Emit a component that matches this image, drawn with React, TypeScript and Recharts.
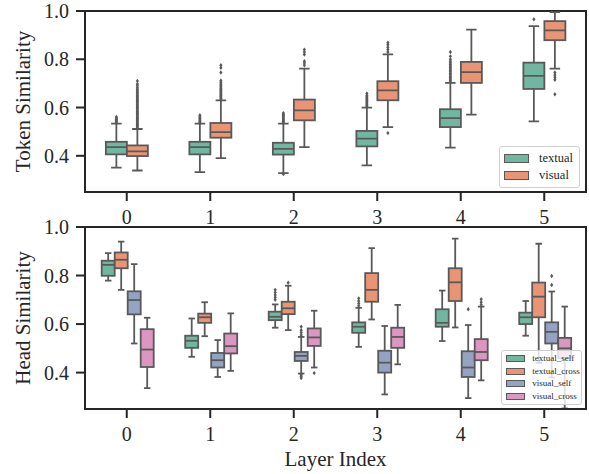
import React from 'react';
import { ComposedChart, Bar, XAxis, YAxis, Legend, ReferenceArea } from 'recharts';

// ---------- data ----------
const LAYERS = ['0', '1', '2', '3', '4', '5'];
const Y_TICKS = [0.4, 0.6, 0.8, 1.0];

// box stats: [lower whisker, q1, median, q3, upper whisker]
const TOKEN_TEXTUAL = [
  [0.351, 0.406, 0.436, 0.458, 0.533],
  [0.332, 0.406, 0.436, 0.458, 0.533],
  [0.328, 0.405, 0.429, 0.454, 0.533],
  [0.360, 0.439, 0.471, 0.503, 0.600],
  [0.434, 0.519, 0.556, 0.593, 0.702],
  [0.543, 0.677, 0.731, 0.786, 0.937],
];
const TOKEN_VISUAL = [
  [0.339, 0.399, 0.418, 0.443, 0.511],
  [0.390, 0.475, 0.498, 0.536, 0.630],
  [0.436, 0.547, 0.588, 0.633, 0.761],
  [0.519, 0.630, 0.671, 0.709, 0.820],
  [0.571, 0.702, 0.747, 0.789, 0.923],
  [0.761, 0.879, 0.920, 0.958, 0.995],
];
const TOKEN_TEXTUAL_OUT = [
  [0.537, 0.541, 0.545, 0.549, 0.553, 0.557, 0.561],
  [0.537, 0.542, 0.547, 0.552, 0.557, 0.562, 0.568],
  [0.537, 0.542, 0.547, 0.552, 0.557, 0.562, 0.567, 0.572, 0.577, 0.324],
  [0.605, 0.610, 0.615, 0.620, 0.625, 0.630, 0.635, 0.640, 0.645, 0.650, 0.658],
  [0.706, 0.712, 0.718, 0.724, 0.730, 0.736, 0.742, 0.748, 0.754, 0.760, 0.766, 0.772, 0.778, 0.785, 0.792, 0.800, 0.812, 0.830],
  [0.966],
];
const TOKEN_VISUAL_OUT = [
  [0.515, 0.520, 0.525, 0.530, 0.535, 0.540, 0.545, 0.550, 0.555, 0.560, 0.565, 0.570, 0.575, 0.580, 0.585, 0.590, 0.595, 0.600, 0.605, 0.610, 0.615, 0.620, 0.625, 0.630, 0.635, 0.640, 0.645, 0.650, 0.656, 0.662, 0.668, 0.675, 0.682, 0.690, 0.698, 0.710],
  [0.635, 0.640, 0.645, 0.650, 0.655, 0.660, 0.665, 0.670, 0.675, 0.680, 0.686, 0.692, 0.698, 0.705, 0.712, 0.745, 0.765, 0.775],
  [0.775, 0.785, 0.792, 0.820, 0.830, 0.840],
  [0.830, 0.840, 0.850, 0.860, 0.869, 0.494],
  [],
  [0.745, 0.735, 0.725, 0.715, 0.655],
];

const HEAD_TEXTUAL_SELF = [
  [0.779, 0.799, 0.844, 0.861, 0.892],
  [0.465, 0.502, 0.531, 0.552, 0.623],
  [0.585, 0.616, 0.630, 0.651, 0.681],
  [0.506, 0.564, 0.589, 0.607, 0.667],
  [0.530, 0.589, 0.605, 0.661, 0.738],
  [0.552, 0.600, 0.628, 0.647, 0.695],
];
const HEAD_TEXTUAL_CROSS = [
  [0.741, 0.830, 0.865, 0.895, 0.940],
  [0.550, 0.605, 0.628, 0.643, 0.690],
  [0.575, 0.641, 0.665, 0.692, 0.758],
  [0.619, 0.692, 0.741, 0.810, 0.913],
  [0.586, 0.695, 0.772, 0.830, 0.952],
  [0.440, 0.628, 0.713, 0.771, 0.931],
];
const HEAD_VISUAL_SELF = [
  [0.520, 0.640, 0.699, 0.735, 0.847],
  [0.382, 0.421, 0.451, 0.481, 0.534],
  [0.396, 0.448, 0.469, 0.485, 0.547],
  [0.310, 0.400, 0.441, 0.490, 0.592],
  [0.295, 0.382, 0.421, 0.488, 0.596],
  [0.380, 0.520, 0.568, 0.607, 0.734],
];
const HEAD_VISUAL_CROSS = [
  [0.336, 0.423, 0.495, 0.579, 0.626],
  [0.407, 0.479, 0.509, 0.561, 0.644],
  [0.421, 0.510, 0.545, 0.582, 0.655],
  [0.434, 0.502, 0.547, 0.585, 0.679],
  [0.368, 0.451, 0.485, 0.538, 0.672],
  [0.252, 0.459, 0.500, 0.543, 0.672],
];
const HEAD_TEXTUAL_SELF_OUT = [[], [], [0.700, 0.710, 0.720, 0.730, 0.741], [0.675, 0.685, 0.695, 0.706], [], []];
const HEAD_TEXTUAL_CROSS_OUT = [[], [], [0.770], [], [], []];
const HEAD_VISUAL_SELF_OUT = [[], [], [0.555, 0.565, 0.575, 0.589, 0.390, 0.384, 0.378], [], [0.661], [0.761, 0.798]];
const HEAD_VISUAL_CROSS_OUT = [[], [], [0.398], [], [0.680, 0.690, 0.702], []];

const TOKEN_SERIES = ['textual', 'visual'];
const HEAD_SERIES = ['textual_self', 'textual_cross', 'visual_self', 'visual_cross'];
const COLORS = ['#71b6a1', '#e99575', '#95a3c3', '#db96c1'];

// ---------- styling ----------
const FONT = 'Liberation Serif';
const INK = '#262626';
const EDGE = '#595959';
const LW = 1.8;

const tokenRows = LAYERS.map((layer, i) => ({
  layer,
  textual: TOKEN_TEXTUAL[i],
  textual_out: TOKEN_TEXTUAL_OUT[i],
  visual: TOKEN_VISUAL[i],
  visual_out: TOKEN_VISUAL_OUT[i],
}));

const headRows = LAYERS.map((layer, i) => ({
  layer,
  textual_self: HEAD_TEXTUAL_SELF[i],
  textual_self_out: HEAD_TEXTUAL_SELF_OUT[i],
  textual_cross: HEAD_TEXTUAL_CROSS[i],
  textual_cross_out: HEAD_TEXTUAL_CROSS_OUT[i],
  visual_self: HEAD_VISUAL_SELF[i],
  visual_self_out: HEAD_VISUAL_SELF_OUT[i],
  visual_cross: HEAD_VISUAL_CROSS[i],
  visual_cross_out: HEAD_VISUAL_CROSS_OUT[i],
}));

function makeBoxShape(key: string, color: string) {
  return (props: any) => {
    const { x, y, width, height, payload } = props;
    const s = payload[key];
    const outs: number[] = payload[key + '_out'] || [];
    const [mn, q1, md, q3, mx] = s;
    const top = Math.min(y, y + height);
    const bottom = Math.max(y, y + height);
    const k = (bottom - top) / (q3 - q1);
    const Y = (v: number) => top + (q3 - v) * k;
    const cx = x + width / 2;
    const cap = width / 4;
    return (
      <g>
        <line x1={cx} x2={cx} y1={Y(q3)} y2={Y(mx)} stroke={EDGE} strokeWidth={LW} />
        <line x1={cx} x2={cx} y1={Y(q1)} y2={Y(mn)} stroke={EDGE} strokeWidth={LW} />
        <line x1={cx - cap} x2={cx + cap} y1={Y(mx)} y2={Y(mx)} stroke={EDGE} strokeWidth={LW} />
        <line x1={cx - cap} x2={cx + cap} y1={Y(mn)} y2={Y(mn)} stroke={EDGE} strokeWidth={LW} />
        <rect x={x} y={top} width={width} height={bottom - top} fill={color} stroke={EDGE} strokeWidth={LW} />
        <line x1={x} x2={x + width} y1={Y(md)} y2={Y(md)} stroke={EDGE} strokeWidth={LW} />
        {outs.map((v, j) => {
          const py = Y(v);
          return (
            <path
              key={j}
              d={`M${cx},${py - 2.2} L${cx + 1.6},${py} L${cx},${py + 2.2} L${cx - 1.6},${py} Z`}
              fill={EDGE}
            />
          );
        })}
      </g>
    );
  };
}

function makeLegend(names: string[], opts: { patchW: number; patchH: number; fontSize: number; rowH: number; width: number; padY: number }) {
  return () => (
    <div
      style={{
        width: opts.width,
        boxSizing: 'border-box',
        background: 'rgba(255,255,255,0.8)',
        border: '1px solid #d0d0d0',
        borderRadius: 3,
        padding: `${opts.padY}px 0 ${opts.padY}px 4px`,
        fontFamily: FONT,
        fontSize: opts.fontSize,
        color: INK,
      }}
    >
      {names.map((n, i) => (
        <div key={n} style={{ display: 'flex', alignItems: 'center', height: opts.rowH, fontFamily: FONT }}>
          <span
            style={{
              display: 'inline-block',
              width: opts.patchW,
              height: opts.patchH,
              background: COLORS[i],
              border: `1px solid ${EDGE}`,
              boxSizing: 'border-box',
              marginRight: opts.fontSize * 0.8,
            }}
          />
          <span style={{ lineHeight: 1, fontFamily: FONT }}>{n}</span>
        </div>
      ))}
    </div>
  );
}

const YLabel = (text: string) => (props: any) => {
  const vb = props.viewBox;
  const cx = vb.x + 30;
  const cy = vb.y + vb.height / 2;
  return (
    <text x={cx} y={cy} transform={`rotate(-90, ${cx}, ${cy})`} textAnchor="middle" fontFamily={FONT} fontSize={21} fill={INK}>
      {text}
    </text>
  );
};

const XLabel = (text: string) => (props: any) => {
  const vb = props.viewBox;
  return (
    <text x={vb.x + vb.width / 2} y={vb.y + 56.5} textAnchor="middle" fontFamily={FONT} fontSize={21} fill={INK}>
      {text}
    </text>
  );
};

const renderTick = (fmt: (v: any) => string, axis: 'x' | 'y') => (props: any) => {
  const { x, y, payload } = props;
  if (axis === 'x') {
    return (
      <text x={x} y={y} dy={14} textAnchor="middle" fontFamily={FONT} fontSize={20} fill={INK}>
        {fmt(payload.value)}
      </text>
    );
  }
  return (
    <text x={x} y={y} dy={7} textAnchor="end" fontFamily={FONT} fontSize={20} fill={INK}>
      {fmt(payload.value)}
    </text>
  );
};

const axisLineStyle = { stroke: INK, strokeWidth: 2 };
const tickLineStyle = { stroke: INK, strokeWidth: 2 };

export default function App() {
  return (
    <div style={{ position: 'absolute', left: 0, top: 0, width: 589, height: 474, background: '#fff', fontFamily: FONT }}>
      <div style={{ position: 'absolute', left: 0, top: 0 }}>
        <ComposedChart
          width={589}
          height={228}
          data={tokenRows}
          margin={{ top: 11, right: 3, left: 0, bottom: 0 }}
          barCategoryGap="25%"
          barGap={0}
        >
          <XAxis
            dataKey="layer"
            height={36}
            tick={renderTick((v) => String(v), 'x')}
            tickSize={9}
            tickMargin={9}
            axisLine={axisLineStyle}
            tickLine={tickLineStyle}
          />
          <YAxis
            type="number"
            domain={[0.25, 1.0]}
            ticks={Y_TICKS}
            width={85}
            tick={renderTick((v) => Number(v).toFixed(1), 'y')}
            tickSize={9}
            tickMargin={7}
            axisLine={axisLineStyle}
            tickLine={tickLineStyle}
            allowDataOverflow
            label={{ content: YLabel('Token Similarity') }}
          />
          {TOKEN_SERIES.map((name, i) => (
            <Bar
              key={name}
              name={name}
              dataKey={(d: any) => [d[name][1], d[name][3]]}
              fill={COLORS[i]}
              shape={makeBoxShape(name, COLORS[i])}
              isAnimationActive={false}
            />
          ))}
          <ReferenceArea x1="0" x2="5" y1={0.25} y2={1.0} fill="none" stroke={INK} strokeWidth={2} ifOverflow="visible" />
          <Legend
            layout="vertical"
            align="center"
            verticalAlign="middle"
            wrapperStyle={{ left: 499, top: 145.5, width: 81, height: 40 }}
            content={makeLegend(TOKEN_SERIES, { patchW: 25, patchH: 9, fontSize: 12.5, rowH: 17, width: 81, padY: 3 })}
          />
        </ComposedChart>
      </div>
      <div style={{ position: 'absolute', left: 0, top: 216 }}>
        <ComposedChart
          width={589}
          height={258}
          data={headRows}
          margin={{ top: 11, right: 3, left: 0, bottom: 0 }}
          barCategoryGap="20%"
          barGap={0}
        >
          <XAxis
            dataKey="layer"
            height={65}
            tick={renderTick((v) => String(v), 'x')}
            tickSize={9}
            tickMargin={9}
            axisLine={axisLineStyle}
            tickLine={tickLineStyle}
            label={{ content: XLabel('Layer Index') }}
          />
          <YAxis
            type="number"
            domain={[0.25, 1.0]}
            ticks={Y_TICKS}
            width={85}
            tick={renderTick((v) => Number(v).toFixed(1), 'y')}
            tickSize={9}
            tickMargin={7}
            axisLine={axisLineStyle}
            tickLine={tickLineStyle}
            allowDataOverflow
            label={{ content: YLabel('Head Similarity') }}
          />
          {HEAD_SERIES.map((name, i) => (
            <Bar
              key={name}
              name={name}
              dataKey={(d: any) => [d[name][1], d[name][3]]}
              fill={COLORS[i]}
              shape={makeBoxShape(name, COLORS[i])}
              isAnimationActive={false}
            />
          ))}
          <ReferenceArea x1="0" x2="5" y1={0.25} y2={1.0} fill="none" stroke={INK} strokeWidth={2} ifOverflow="visible" />
          <Legend
            layout="vertical"
            align="center"
            verticalAlign="middle"
            wrapperStyle={{ left: 501, top: 134, width: 81, height: 54 }}
            content={makeLegend(HEAD_SERIES, { patchW: 19, patchH: 7, fontSize: 9, rowH: 12.8, width: 81, padY: 1 })}
          />
        </ComposedChart>
      </div>
    </div>
  );
}
